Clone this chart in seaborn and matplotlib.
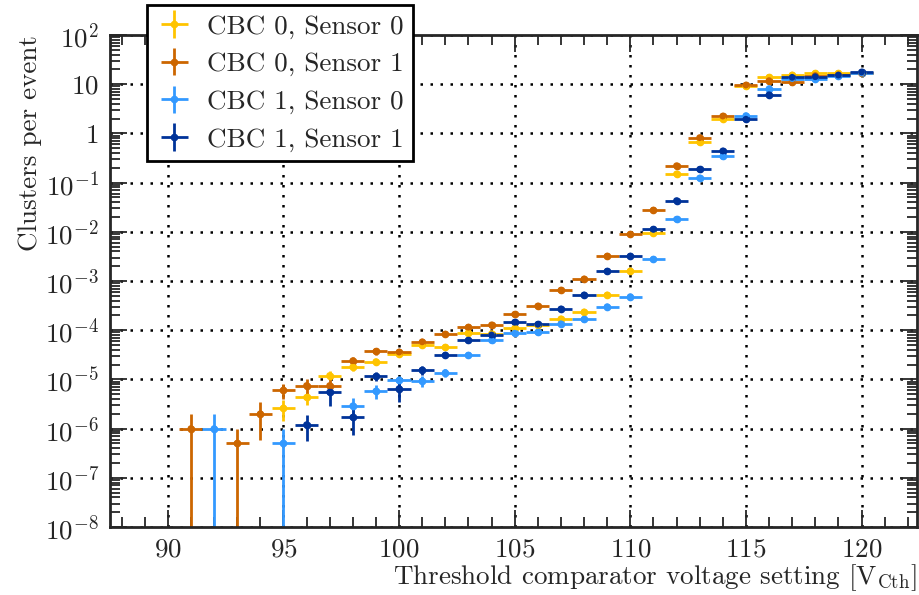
import numpy as np
import pandas as pd
import matplotlib
matplotlib.use('Agg')
import matplotlib.pyplot as plt
import matplotlib.ticker as mticker
import seaborn as sns

# Threshold settings (one bin per setting)
vcth = list(range(91, 121))
nan = np.nan

# Clusters per event, one list per CBC/sensor
cbc0_s0 = [nan, nan, nan, nan, 2.6e-6, 4.3e-6, 1.2e-5, 1.8e-5, 2.3e-5, 3.3e-5,
           5.0e-5, 4.5e-5, 8.9e-5, 8.5e-5, 1.1e-4, 1.25e-4, 1.7e-4, 2.35e-4, 5.2e-4, 1.6e-3,
           9.3e-3, 0.15, 0.66, 2.0, 9.0, 13.8, 15.4, 16.6, 16.6, 17.0]
cbc0_s1 = [1e-6, nan, 5e-7, 2e-6, 6e-6, 7.5e-6, 7.5e-6, 2.4e-5, 3.7e-5, 3.6e-5,
           5.8e-5, 8.3e-5, 1.15e-4, 1.28e-4, 2.1e-4, 3.1e-4, 6.5e-4, 1.1e-3, 3.2e-3, 8.9e-3,
           2.75e-2, 0.22, 0.82, 2.25, 9.6, 11.8, 11.3, 15.0, 15.5, 16.5]
cbc1_s0 = [nan, 1e-6, nan, nan, 5e-7, nan, nan, 2.9e-6, 5.8e-6, 9.5e-6,
           9.3e-6, 1.38e-5, 3.1e-5, 6.2e-5, 8.7e-5, 9.1e-5, 1.35e-4, 1.66e-4, 3.0e-4, 4.8e-4,
           2.76e-3, 0.018, 0.124, 0.34, 2.3, 8.1, 13.0, 12.6, 14.5, 17.0]
cbc1_s1 = [nan, nan, nan, nan, nan, 1.2e-6, 5.5e-6, 1.7e-6, 1.15e-5, 6.5e-6,
           1.55e-5, 3.1e-5, 6.2e-5, 8.0e-5, 1.45e-4, 1.32e-4, 2.7e-4, 5.2e-4, 1.58e-3, 3.2e-3,
           1.12e-2, 0.043, 0.186, 0.44, 1.94, 6.1, 13.8, 14.2, 15.3, 17.7]

# Vertical (statistical) errors as seen in the plot; 0 where hidden by the marker
err0_s0 = [0, 0, 0, 0, 1.2e-6, 1.3e-6, 2.5e-6, 3e-6, 3.5e-6, 4e-6,
           5e-6, 5e-6, 7e-6, 7e-6, 8e-6] + [0] * 15
err0_s1 = [1e-6, 0, 5e-7, 1.4e-6, 2e-6, 2.5e-6, 2.5e-6, 4e-6, 5e-6, 5e-6,
           6e-6, 7e-6, 8e-6, 9e-6, 1e-5] + [0] * 15
err1_s0 = [0, 1e-6, 0, 0, 5e-7, 0, 0, 1.3e-6, 1.8e-6, 2.3e-6,
           2.3e-6, 2.8e-6, 4e-6, 6e-6, 7e-6] + [0] * 15
err1_s1 = [0, 0, 0, 0, 0, 6.5e-7, 2.6e-6, 9.6e-7, 2.4e-6, 3e-6,
           3e-6, 4e-6, 6e-6, 7e-6, 9e-6] + [0] * 15

labels = ['CBC 0, Sensor 0', 'CBC 0, Sensor 1', 'CBC 1, Sensor 0', 'CBC 1, Sensor 1']
colors = ['#FFC400', '#CC6600', '#3399FF', '#003399']

frames = []
for lab, vals, errs in zip(labels, [cbc0_s0, cbc0_s1, cbc1_s0, cbc1_s1],
                           [err0_s0, err0_s1, err1_s0, err1_s1]):
    frames.append(pd.DataFrame({'vcth': vcth, 'clusters': vals, 'err': errs, 'series': lab}))
df = pd.concat(frames).dropna(subset=['clusters'])

sns.set_style('ticks')
plt.rcParams['font.family'] = ['cmr10', 'DejaVu Serif']
plt.rcParams['mathtext.fontset'] = 'cm'
plt.rcParams['axes.unicode_minus'] = False
plt.rcParams['axes.formatter.use_mathtext'] = True

fig = plt.figure(figsize=(9.19, 5.95), dpi=100)
ax = fig.add_axes([110 / 919, 1 - 527 / 595, 807 / 919, 492 / 595])

for lab, col in zip(labels, colors):
    d = df[df['series'] == lab]
    ax.errorbar(d['vcth'], d['clusters'], xerr=0.5, yerr=d['err'], fmt='o', color=col,
                ms=4.5, elinewidth=2, capsize=0, label=lab)
sns.scatterplot(data=df, x='vcth', y='clusters', hue='series', palette=dict(zip(labels, colors)),
                s=24, edgecolor='none', legend=False, ax=ax, zorder=3)

ax.set_yscale('log', nonpositive='clip')
ax.set_xlim(87.5, 122.4)
ax.set_ylim(1e-8, 1e2)

ax.xaxis.set_major_locator(mticker.MultipleLocator(5))
ax.xaxis.set_minor_locator(mticker.MultipleLocator(1))
ax.yaxis.set_major_locator(mticker.LogLocator(base=10, numticks=20))
ax.yaxis.set_minor_locator(mticker.LogLocator(base=10, subs=np.arange(2, 10), numticks=20))


def ylab(v, pos):
    e = int(round(np.log10(v)))
    if e == 0:
        return '$1$'
    if e == 1:
        return '$10$'
    return '$10^{%d}$' % e


ax.yaxis.set_major_formatter(mticker.FuncFormatter(ylab))
ax.yaxis.set_minor_formatter(mticker.NullFormatter())

ax.tick_params(which='both', direction='in', top=True, right=True, labelsize=19.5, width=1.3)
ax.tick_params(which='major', length=12, pad=8)
ax.tick_params(which='minor', length=7)
for s in ax.spines.values():
    s.set_linewidth(2)
ax.grid(True, which='major', color='black', linestyle=(0, (1, 3)), linewidth=1.8)

ax.set_xlabel(r'Threshold comparator voltage setting [V$_{\rm Cth}$]', loc='right', fontsize=19.5, labelpad=0)
ax.set_ylabel('Clusters per event', loc='top', fontsize=19.5, labelpad=2)

leg = ax.legend(loc='upper left', bbox_to_anchor=(147 / 919, 1 - 5 / 595), bbox_transform=fig.transFigure,
                borderaxespad=0, fontsize=19.5, frameon=True, fancybox=False, framealpha=1,
                edgecolor='black', handlelength=1.3, handletextpad=0.55, labelspacing=0.5,
                borderpad=0.35)
leg.get_frame().set_linewidth(2)

fig.savefig('out.png', dpi=100)
